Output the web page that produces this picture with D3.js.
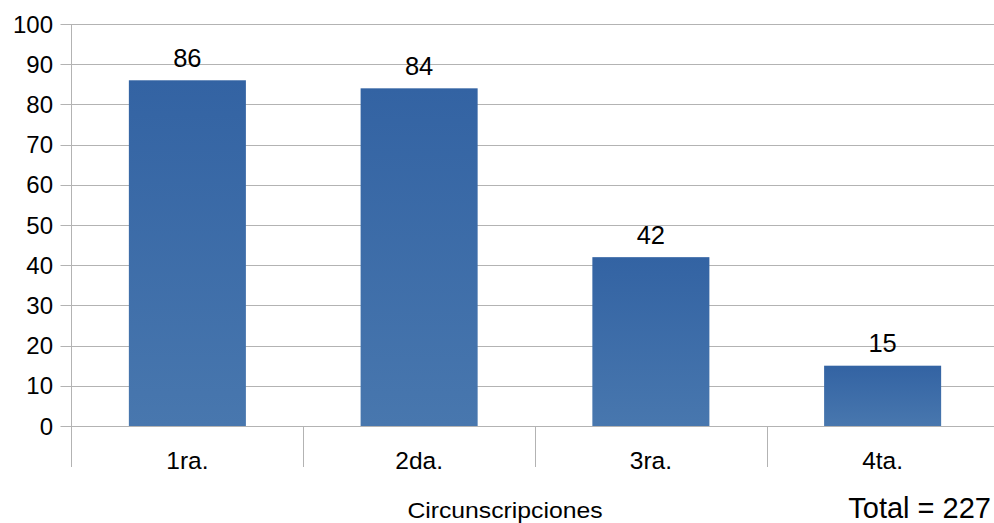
<!DOCTYPE html>
<html><head><meta charset="utf-8">
<script src="https://cdn.jsdelivr.net/npm/d3@7"></script>
<style>html,body{margin:0;padding:0;background:#fff;}svg{display:block;font-family:"Liberation Sans",Arial,sans-serif;}</style>
</head><body>
<svg id="c" width="994" height="523"></svg>
<script>
const categories = ["1ra.", "2da.", "3ra.", "4ta."];
const values = [86, 84, 42, 15];
const yTicks = [0,10,20,30,40,50,60,70,80,90,100];
const xTitle = "Circunscripciones";
const totalLabel = "Total = 227";

const svg = d3.select("#c");
const m = {l:71.5, r:-4.5, t:24, b:97};
const W = 994, H = 523;
const x = d3.scaleBand().domain(categories).range([m.l, W - m.r]).paddingInner(0).paddingOuter(0);
const y = d3.scaleLinear().domain([0,100]).range([H - m.b, m.t]);

const defs = svg.append("defs");
const g = defs.append("linearGradient").attr("id","bg").attr("x1",0).attr("y1",0).attr("x2",0).attr("y2",1);
g.append("stop").attr("offset","0%").attr("stop-color","#3363a3");
g.append("stop").attr("offset","100%").attr("stop-color","#4877ae");

// gridlines
svg.append("g").selectAll("line").data(yTicks).join("line")
  .attr("x1", m.l - 11).attr("x2", W - m.r)
  .attr("y1", d => Math.round(y(d)) + 0.5).attr("y2", d => Math.round(y(d)) + 0.5)
  .attr("stroke", "#b3b3b3").attr("stroke-width", 1);

// y axis line
svg.append("line").attr("x1", m.l).attr("x2", m.l).attr("y1", m.t).attr("y2", y(0) + 41)
  .attr("stroke", "#b3b3b3");

// category boundary ticks
const bounds = categories.map(c => x(c)).concat([x(categories[categories.length-1]) + x.bandwidth()]);
svg.append("g").selectAll("line").data(bounds.slice(1)).join("line")
  .attr("x1", d => Math.round(d) + 0.5).attr("x2", d => Math.round(d) + 0.5)
  .attr("y1", y(0)).attr("y2", y(0) + 41)
  .attr("stroke", "#b3b3b3");

// y tick labels
svg.append("g").selectAll("text").data(yTicks).join("text")
  .attr("x", 53).attr("y", d => y(d))
  .attr("dy", "0.36em")
  .attr("text-anchor", "end").attr("font-size", 24).attr("fill", "#000")
  .text(d => d);

// bars
const bw = x.bandwidth() * 0.505;
svg.append("g").selectAll("rect").data(values).join("rect")
  .attr("x", (d,i) => x(categories[i]) + (x.bandwidth() - bw)/2)
  .attr("width", bw)
  .attr("y", d => y(d)).attr("height", d => y(0) - y(d))
  .attr("fill", "url(#bg)");

// value labels
svg.append("g").selectAll("text").data(values).join("text")
  .attr("x", (d,i) => x(categories[i]) + x.bandwidth()/2)
  .attr("y", d => y(d) - 13.5)
  .attr("text-anchor", "middle").attr("font-size", 25.5).attr("fill", "#000")
  .text(d => d);

// category labels
svg.append("g").selectAll("text").data(categories).join("text")
  .attr("x", d => x(d) + x.bandwidth()/2).attr("y", y(0) + 43)
  .attr("text-anchor", "middle").attr("font-size", 24.5).attr("fill", "#000")
  .text(d => d);

svg.append("text").attr("transform", "translate(505,518) scale(1.1,1)").attr("text-anchor","middle")
  .attr("font-size", 22.5).attr("fill","#000").text(xTitle);
svg.append("text").attr("x", 991).attr("y", 518).attr("text-anchor","end")
  .attr("font-size", 29).attr("fill","#000").text(totalLabel);
</script>
</body></html>
